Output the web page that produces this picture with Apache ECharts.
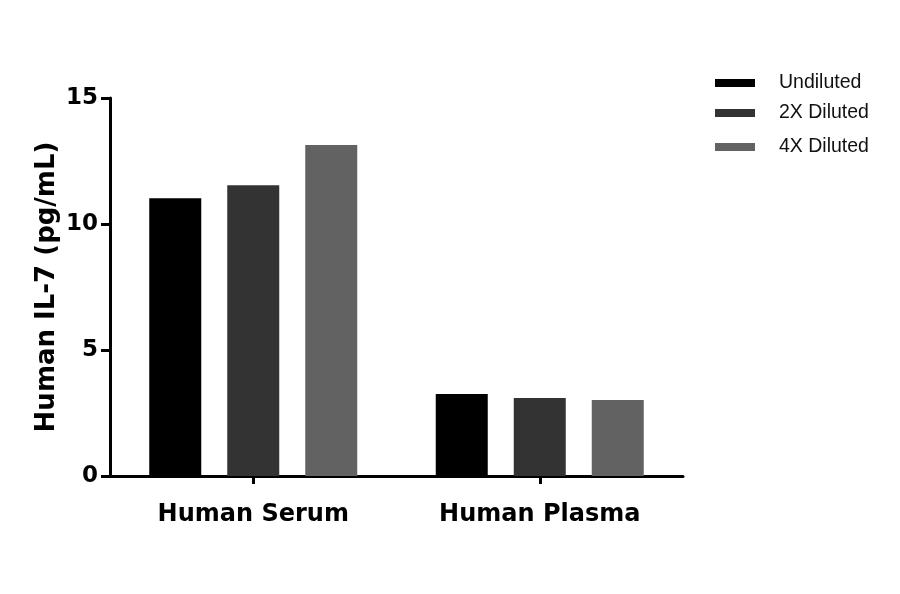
<!DOCTYPE html>
<html>
<head>
<meta charset="utf-8">
<script src="https://cdn.jsdelivr.net/npm/echarts@6/dist/echarts.min.js"></script>
<style>
html,body{margin:0;padding:0;background:#fff;}
#chart{width:900px;height:594px;}
</style>
</head>
<body>
<div id="chart"></div>
<script>
const categories = ['Human Serum', 'Human Plasma'];
const undiluted = [11.02, 3.25];
const diluted2x = [11.54, 3.10];
const diluted4x = [13.13, 3.02];
const seriesNames = ['Undiluted', '2X Diluted', '4X Diluted'];
const seriesColors = ['#000000', '#333333', '#626262'];
const yTicks = [0, 5, 10, 15];

const chart = echarts.init(document.getElementById('chart'));
const boldFont = 'DejaVu Sans';
const legendTops = [68, 98, 132];

const seriesData = [undiluted, diluted2x, diluted4x];
const option = {
  animation: false,
  backgroundColor: '#ffffff',
  grid: { left: 110, right: 217, top: 98, bottom: 118 },
  legend: seriesNames.map((n, i) => ({
    data: [n],
    left: 710,
    top: legendTops[i],
    orient: 'vertical',
    itemWidth: 40,
    itemHeight: 8,
    itemGap: 0,
    icon: 'rect',
    selectedMode: false,
    textStyle: { fontFamily: 'Liberation Sans', fontSize: 19.5, color: '#111', padding: [0, 0, 0, 19] }
  })),
  xAxis: {
    type: 'category',
    data: categories,
    axisLine: { lineStyle: { color: '#000', width: 3 } },
    axisTick: { show: true, alignWithLabel: true, length: 8, lineStyle: { color: '#000', width: 3 } },
    axisLabel: { fontFamily: boldFont, fontWeight: 'bold', fontSize: 24, color: '#000', margin: 27 }
  },
  yAxis: {
    type: 'value',
    min: 0, max: 15, interval: 5,
    name: 'Human IL-7 (pg/mL)',
    nameLocation: 'middle',
    nameGap: 50,
    nameMoveOverlap: false,
    nameTextStyle: { fontFamily: boldFont, fontWeight: 'bold', fontSize: 26, color: '#000' },
    axisLine: { show: true, lineStyle: { color: '#000', width: 3 } },
    axisTick: { show: true, length: 9, lineStyle: { color: '#000', width: 3 } },
    splitLine: { show: false },
    axisLabel: {
      fontFamily: boldFont, fontWeight: 'bold', fontSize: 23, color: '#000', margin: 12,
      formatter: v => yTicks.includes(v) ? String(v) : ''
    }
  },
  series: seriesNames.map((n, i) => ({
    name: n,
    type: 'bar',
    data: seriesData[i],
    barWidth: 52,
    barGap: '50%',
    itemStyle: { color: seriesColors[i] }
  }))
};
chart.setOption(option);
</script>
</body>
</html>
